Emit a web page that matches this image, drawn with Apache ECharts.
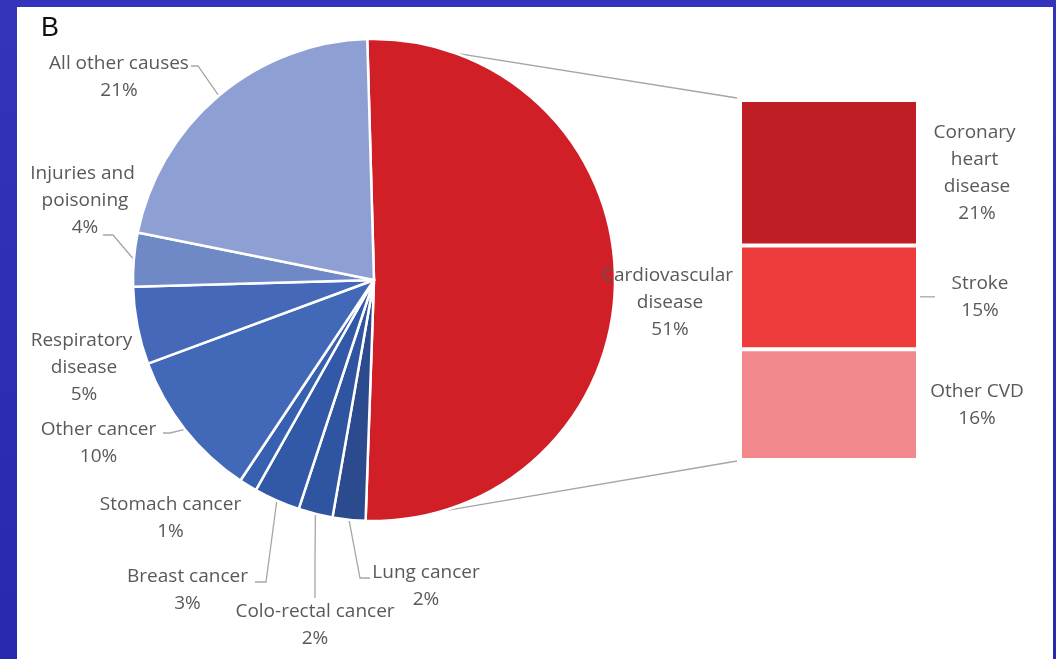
<!DOCTYPE html>
<html><head><meta charset="utf-8">
<script src="https://cdn.jsdelivr.net/npm/echarts@6/dist/echarts.min.js"></script>
<style>
html,body{margin:0;padding:0;width:1056px;height:659px;overflow:hidden;background:linear-gradient(180deg,#3333BC 0%,#2727B0 100%);}
#panel{position:absolute;left:17px;top:7px;width:1036px;height:652px;background:#fff;}
#chart{position:absolute;left:0;top:0;width:1056px;height:659px;}
</style></head><body>
<div id="panel"></div><div id="chart"></div>
<script>
// ---- data ----
const causes = ['Cardiovascular disease','Lung cancer','Colo-rectal cancer','Breast cancer','Stomach cancer','Other cancer','Respiratory disease','Injuries and poisoning','All other causes'];
const causeShares = [51.0, 2.2, 2.3, 3.1, 1.2, 10.0, 5.2, 3.6, 21.4];
const cvdTypes = ['Coronary heart disease','Stroke','Other CVD'];
const cvdShares = [21, 15, 16];

// ---- style / layout ----
const pieColors = ['#D01F27','#2C4B8E','#2F55A0','#3259A8','#3860B0','#4169B8','#4569B8','#6F88C6','#8EA0D3'];
const barColors = ['#BE1E24','#EE3B3B','#F28A8D'];
const textColor = '#595959';
const font = 'Open Sans';
const pieLabelPos = {
  'Cardiovascular disease': {x:670, y:302.5, width:140},
  'Lung cancer': {x:426, y:586.5, line:[[360,578],[370,578]]},
  'Colo-rectal cancer': {x:315, y:625, line:[[315,560],[315,598]]},
  'Breast cancer': {x:187.5, y:590.5, line:[[266,582],[255,582]]},
  'Stomach cancer': {x:170.5, y:518},
  'Other cancer': {x:98.5, y:443, line:[[170,433],[163,433]]},
  'Respiratory disease': {x:84, y:368, width:110},
  'Injuries and poisoning': {x:85, y:201, width:115, line:[[113,235],[103,235]]},
  'All other causes': {x:119, y:77, line:[[198,66],[191,66]]}
};
const PIE_CX = 374, PIE_CY = 280, PIE_R = 241;

const chart = echarts.init(document.getElementById('chart'), null, {renderer:'canvas'});

const pieData = causes.map((n, i) => {
  const L = pieLabelPos[n];
  return {
    name: n, value: causeShares[i],
    itemStyle: {color: pieColors[i]},
    label: L.width ? {width: L.width, overflow: 'break'} : {},
    labelLine: {show: !!L.line}
  };
});

const barSeries = cvdTypes.map((n, i) => ({
  type: 'bar', name: n, stack: 'cvd', barWidth: '100%',
  xAxisIndex: 0, yAxisIndex: 0,
  data: [cvdShares[i]],
  itemStyle: {color: barColors[i], borderColor: '#fff', borderWidth: 2},
  label: {
    show: true, position: 'right', distance: i === 1 ? 62 : 59, align: 'center',
    formatter: p => p.seriesName + '\n' + p.value + '%',
    color: textColor, fontFamily: font, fontSize: 19, lineHeight: 27,
    width: i === 0 ? 90 : undefined, overflow: i === 0 ? 'break' : 'none'
  },
  emphasis: {disabled: true},
  silent: true
}));

chart.setOption({
  animation: false,
  title: {text: 'B', left: 36, top: 10, textStyle: {fontFamily: 'Liberation Sans', fontSize: 27, fontWeight: 'normal', color: '#111'}},
  grid: {left: 740, top: 100, width: 178, height: 360},
  xAxis: {type: 'category', data: ['CVD'], show: false},
  yAxis: {type: 'value', min: 0, max: 52, inverse: true, show: false},
  series: [
    {
      type: 'pie', center: [PIE_CX, PIE_CY], radius: PIE_R, startAngle: 91.6, clockwise: true,
      avoidLabelOverlap: false, minShowLabelAngle: 0, silent: true,
      itemStyle: {borderColor: '#fff', borderWidth: 2.5},
      label: {
        show: true, position: 'outside', color: textColor, fontFamily: font, fontSize: 19, lineHeight: 27,
        align: 'center',
        formatter: p => p.name + '\n' + Math.round(p.value) + '%'
      },
      labelLine: {show: true, length: 10, length2: 10, lineStyle: {color: '#A6A6A6', width: 1.3}},
      labelLayout: function (params) {
        const L = pieLabelPos[causes[params.dataIndex]];
        const res = {x: L.x, y: L.y, align: 'center', verticalAlign: 'middle'};
        if (L.line) {
          let p0;
          if (params.labelLinePoints && params.labelLinePoints[0]) p0 = params.labelLinePoints[0];
          else {
            const tot = causeShares.reduce((a, b) => a + b, 0);
            let cum = 0; for (let k = 0; k < params.dataIndex; k++) cum += causeShares[k];
            const th = (-1.6 + (cum + causeShares[params.dataIndex] / 2) / tot * 360) * Math.PI / 180;
            p0 = [PIE_CX + PIE_R * Math.sin(th), PIE_CY - PIE_R * Math.cos(th)];
          }
          res.labelLinePoints = [p0, L.line[0], L.line[1]];
        }
        return res;
      },
      data: pieData
    },
    ...barSeries
  ]
});

// connector lines between pie and bar
(function () {
  const pl = chart.getModel().getSeriesByIndex(0).getData().getItemLayout(0);
  const cx = pl.cx, cy = pl.cy, r = pl.r;
  const top = [cx + r * Math.cos(pl.startAngle), cy + r * Math.sin(pl.startAngle)];
  const a2 = 73.5 * Math.PI / 180;
  const bot = [cx + r * Math.cos(a2), cy + r * Math.sin(a2)];
  const b0 = chart.getModel().getSeriesByIndex(1).getData().getItemLayout(0);
  const b1 = chart.getModel().getSeriesByIndex(2).getData().getItemLayout(0);
  const b2 = chart.getModel().getSeriesByIndex(3).getData().getItemLayout(0);
  const left = Math.min(b0.x, b0.x + b0.width);
  const right = Math.max(b0.x, b0.x + b0.width);
  const yTop = Math.min(b0.y, b0.y + b0.height);
  const yBot = Math.max(b2.y, b2.y + b2.height);
  const sMid = b1.y + b1.height / 2;
  const ls = {stroke: '#A6A6A6', lineWidth: 1.3};
  chart.setOption({
    graphic: [
      {type: 'line', shape: {x1: top[0], y1: top[1], x2: left - 3, y2: yTop - 2}, style: ls, z: 0, silent: true},
      {type: 'line', shape: {x1: bot[0], y1: bot[1], x2: left - 3, y2: yBot + 1}, style: ls, z: 0, silent: true},
      {type: 'line', shape: {x1: right + 2, y1: sMid - 0.5, x2: right + 17, y2: sMid - 0.5}, style: ls, z: 0, silent: true}
    ]
  });
})();
</script>
</body></html>
